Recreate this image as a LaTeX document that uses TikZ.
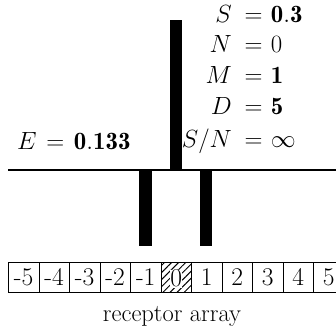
\documentclass[tikz,border=0pt]{standalone}
\usepackage{fontspec}
\usetikzlibrary{patterns.meta}
\begin{document}
\begin{tikzpicture}[x=1pt,y=1pt,
  bar/.style={fill=black,draw=none},
  lbl/.style={inner sep=0pt,font=\Huge},
  cell/.style={draw,line width=0.9pt,minimum width=30.5pt,minimum height=30.5pt,inner sep=0pt,anchor=south west,font=\fontsize{25.5}{28}\selectfont},
  hcell/.style={cell,pattern={Lines[angle=45,distance=5pt,line width=1pt]}}]
\useasboundingbox (0,0) rectangle (336,-328);
\begin{scope}
\clip (0,0) rectangle (336,-328);
% baseline
\coordinate (bl) at (8,-170);
\coordinate (br) at (336,-170);
\draw[line width=1.3pt] (bl) -- (br);
% bars
\fill[bar] (170,-20) rectangle (182,-170);
\fill[bar] (139,-170) rectangle (152,-246);
\fill[bar] (200,-170) rectangle (212,-246);
% receptor cells
\foreach \t [count=\k from 0] in {-5,-4,-3,-2,-1} {
  \node[cell] (c\k) at (8+30.5*\k,-293) {\raisebox{-1.5pt}{\t}};
}
\node[hcell] (c5) at (8+30.5*5,-293) {};
\node[inner sep=0.3pt,fill=white,font=\fontsize{25.5}{28}\selectfont,yshift=-1.5pt] (z) at (c5.center) {0};
\foreach \t [count=\k from 6] in {1,2,3,4,5} {
  \node[cell] (c\k) at (8+30.5*\k,-293) {\raisebox{-1.5pt}{\t}};
}
\end{scope}
\node[lbl,font=\fontsize{24.5}{28}\selectfont] (ra) at (172,-316) {receptor array};
% labels
\node[lbl,anchor=base east] (s1) at (232,-23) {$S$};
\node[lbl,anchor=base west] (s2) at (232,-23) {$\mkern9mu=\mkern1mu\mathbf{0.3}$};
\node[lbl,anchor=base east] (n1) at (232,-53) {$N$};
\node[lbl,anchor=base west] (n2) at (232,-53) {$\mkern9mu=\mkern1mu0$};
\node[lbl,anchor=base east] (m1) at (232,-84) {$M$};
\node[lbl,anchor=base west] (m2) at (232,-84) {$\mkern9mu=\mkern1mu\mathbf{1}$};
\node[lbl,anchor=base east] (d1) at (232,-115) {$D$};
\node[lbl,anchor=base west] (d2) at (232,-115) {$\mkern9mu=\mkern1mu\mathbf{5}$};
\node[lbl,anchor=base east] (q1) at (232,-148) {$S/N$};
\node[lbl,anchor=base west] (q2) at (232,-148) {$\mkern9mu=\mkern1mu\infty$};
\node[lbl,anchor=base west] (e1) at (17,-150) {$E\mkern2mu=\mkern2mu\mathbf{0.133}$};
\end{tikzpicture}
\end{document}
